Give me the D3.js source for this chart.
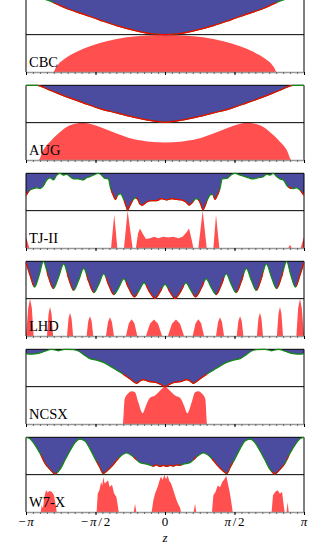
<!DOCTYPE html>
<html>
<head>
<meta charset="utf-8">
<script src="https://cdn.jsdelivr.net/npm/d3@7"></script>
<style>
body { margin: 0; background: #fff; }
svg { display: block; }
</style>
</head>
<body>
<svg width="329" height="544"></svg>
<script>
// z given in units of pi; upper values = depth from panel top (0..1 of half panel),
// lower values = height from panel bottom (0..1 of half panel)
const cbcTopZ = [-1, -0.93, -0.851, -0.78, -0.707, -0.588, -0.468, -0.348, -0.228, -0.108, 0, 0.108, 0.228, 0.348, 0.468, 0.588, 0.707, 0.78, 0.851, 0.93, 1];
const cbcTop  = [0, 0.02, 0.07, 0.18, 0.30, 0.45, 0.61, 0.76, 0.88, 0.97, 1.0, 0.97, 0.88, 0.76, 0.61, 0.45, 0.30, 0.18, 0.07, 0.02, 0];
const cbcLowZ = [-1, -0.803, -0.785, -0.767, -0.719, -0.635, -0.540, -0.420, -0.276, -0.132, 0, 0.132, 0.276, 0.420, 0.540, 0.635, 0.719, 0.767, 0.785, 0.803, 1];
const cbcLow  = [0, 0, 0.12, 0.21, 0.36, 0.54, 0.69, 0.82, 0.93, 0.98, 1.0, 0.98, 0.93, 0.82, 0.69, 0.54, 0.36, 0.21, 0.12, 0, 0];

const augTopZ = [-1, -0.923, -0.827, -0.707, -0.588, -0.468, -0.348, -0.228, -0.108, 0, 0.108, 0.228, 0.348, 0.468, 0.588, 0.707, 0.827, 0.923, 1];
const augTop  = [0, 0, 0.134, 0.31, 0.47, 0.625, 0.74, 0.85, 0.94, 0.99, 0.94, 0.85, 0.74, 0.625, 0.47, 0.31, 0.134, 0, 0];
const augLowZ = [-1, -0.911, -0.876, -0.827, -0.767, -0.707, -0.647, -0.588, -0.528, -0.468, -0.348, -0.228, -0.108, 0, 0.108, 0.228, 0.348, 0.468, 0.528, 0.588, 0.647, 0.707, 0.767, 0.827, 0.876, 0.911, 1];
const augLow  = [0, 0, 0.27, 0.49, 0.71, 0.885, 0.97, 1.0, 0.96, 0.885, 0.71, 0.56, 0.49, 0.47, 0.49, 0.56, 0.71, 0.885, 0.96, 1.0, 0.97, 0.885, 0.71, 0.49, 0.27, 0, 0];

const tj2TopZ = [-1, -0.971, -0.947, -0.923, -0.899, -0.875, -0.851, -0.827, -0.803, -0.779,
  -0.755, -0.731, -0.707, -0.683, -0.659, -0.624, -0.588, -0.564, -0.540, -0.504,
  -0.480, -0.456, -0.432, -0.408, -0.391, -0.372, -0.357, -0.341, -0.319, -0.300,
  -0.281, -0.269, -0.252, -0.233, -0.216, -0.199, -0.180, -0.161, -0.132, -0.096,
  -0.060, -0.024, 0.012, 0.048, 0.084, 0.120, 0.151, 0.175, 0.199, 0.223,
  0.245, 0.261, 0.273, 0.290, 0.309, 0.329, 0.343, 0.360, 0.376, 0.396,
  0.412, 0.444, 0.480, 0.504, 0.540, 0.576, 0.600, 0.636, 0.671, 0.707,
  0.731, 0.755, 0.779, 0.803, 0.827, 0.851, 0.875, 0.899, 0.923, 0.947, 0.971, 1];
const tj2Top = [0.59, 0.45, 0.41, 0.39, 0.41, 0.34, 0.18, 0.12, 0.18, 0.05,
  0.00, 0.05, 0.03, 0.09, 0.15, 0.15, 0.18, 0.12, 0.09, 0.03,
  0.00, 0.05, 0.14, 0.15, 0.41, 0.59, 0.70, 0.59, 0.55, 0.68,
  0.86, 0.98, 0.86, 0.73, 0.66, 0.68, 0.82, 0.85, 0.77, 0.73,
  0.73, 0.68, 0.71, 0.68, 0.70, 0.71, 0.77, 0.85, 0.77, 0.68,
  0.73, 0.86, 0.98, 0.85, 0.68, 0.57, 0.57, 0.70, 0.59, 0.41,
  0.15, 0.14, 0.03, 0.00, 0.05, 0.09, 0.12, 0.15, 0.12, 0.09,
  0.03, 0.05, 0.00, 0.09, 0.15, 0.18, 0.32, 0.39, 0.41, 0.39, 0.45, 0.59];
const tj2LowZ = [-1, -0.976, -0.388, -0.365, -0.343, -0.295, -0.269, -0.233, -0.209, -0.194,
  -0.180, -0.161, -0.137, -0.108, -0.079, -0.048, -0.012, 0.024, 0.060, 0.096,
  0.127, 0.156, 0.173, 0.192, 0.204, 0.240, 0.271, 0.300, 0.348, 0.367,
  0.391, 0.887, 0.899, 0.911, 0.976, 1];
const tj2Low = [0.30, 0, 0, 0.89, 0, 0, 1.0, 0, 0, 0.39,
  0.52, 0.39, 0.24, 0.26, 0.30, 0.26, 0.30, 0.28, 0.30, 0.26,
  0.30, 0.43, 0.52, 0.22, 0, 0, 1.0, 0, 0, 0.89,
  0, 0, 0.09, 0, 0, 0.30];

const lhdTopZ = [-1, -0.969, -0.938, -0.906, -0.875, -0.839, -0.803, -0.766, -0.729, -0.693,
  -0.657, -0.621, -0.585, -0.548, -0.511, -0.476, -0.441, -0.404, -0.367, -0.332,
  -0.297, -0.259, -0.221, -0.186, -0.151, -0.112, -0.072, -0.036, 0,
  0.036, 0.072, 0.112, 0.151, 0.186, 0.221, 0.259, 0.297, 0.332, 0.367,
  0.404, 0.441, 0.476, 0.511, 0.548, 0.585, 0.621, 0.657, 0.693, 0.729,
  0.766, 0.803, 0.839, 0.875, 0.906, 0.938, 0.969, 1];
const lhdTop = [0.03, 0.39, 0.69, 0.38, 0.01, 0.41, 0.73, 0.43, 0.07, 0.46,
  0.78, 0.51, 0.19, 0.55, 0.84, 0.615, 0.34, 0.64, 0.89, 0.70,
  0.47, 0.73, 0.95, 0.78, 0.58, 0.81, 0.99, 0.82, 0.62,
  0.82, 0.99, 0.81, 0.58, 0.78, 0.95, 0.73, 0.47, 0.70, 0.89,
  0.64, 0.34, 0.615, 0.84, 0.55, 0.19, 0.51, 0.78, 0.46, 0.07,
  0.43, 0.73, 0.41, 0.01, 0.38, 0.69, 0.39, 0.03];
const lhdLowZ = [-1, -0.984, -0.971, -0.958, -0.945, -0.849, -0.838, -0.827, -0.816, -0.805,
  -0.705, -0.694, -0.683, -0.672, -0.661, -0.564, -0.552, -0.540, -0.528, -0.516,
  -0.425, -0.410, -0.396, -0.382, -0.367, -0.281, -0.260, -0.240, -0.220, -0.199,
  -0.137, -0.108, -0.079, -0.050, -0.021, 0.021, 0.050, 0.079, 0.108, 0.137,
  0.199, 0.220, 0.240, 0.260, 0.281, 0.367, 0.382, 0.396, 0.410, 0.425,
  0.516, 0.528, 0.540, 0.552, 0.564, 0.661, 0.672, 0.683, 0.694, 0.705,
  0.805, 0.816, 0.827, 0.838, 0.849, 0.945, 0.958, 0.971, 0.984, 1];
const lhdLow = [0, 0.75, 1.0, 0.75, 0, 0, 0.585, 0.78, 0.585, 0,
  0, 0.465, 0.62, 0.465, 0, 0, 0.40, 0.53, 0.40, 0,
  0, 0.375, 0.50, 0.375, 0, 0, 0.34, 0.45, 0.34, 0,
  0, 0.33, 0.44, 0.33, 0, 0, 0.33, 0.44, 0.33, 0,
  0, 0.34, 0.45, 0.34, 0, 0, 0.375, 0.50, 0.375, 0,
  0, 0.40, 0.53, 0.40, 0, 0, 0.465, 0.62, 0.465, 0,
  0, 0.585, 0.78, 0.585, 0, 0, 0.75, 1.0, 0.75, 0];

const ncsxTopZ = [-1, -0.959, -0.911, -0.863, -0.815, -0.767, -0.719, -0.659, -0.616, -0.583,
  -0.540, -0.492, -0.444, -0.396, -0.348, -0.300, -0.252, -0.204, -0.180, -0.156,
  -0.120, -0.065, -0.031, 0, 0.031, 0.065, 0.120, 0.156, 0.180, 0.204,
  0.252, 0.300, 0.348, 0.396, 0.444, 0.492, 0.540, 0.583, 0.616, 0.659,
  0.719, 0.767, 0.815, 0.863, 0.911, 0.959, 1];
const ncsxTop = [0.12, 0.13, 0.11, 0.05, 0, 0.04, 0, 0.01, 0.06, 0.15,
  0.25, 0.29, 0.35, 0.45, 0.56, 0.67, 0.79, 0.91, 0.85, 0.81,
  0.86, 0.89, 0.94, 1.0, 0.94, 0.89, 0.86, 0.81, 0.85, 0.91,
  0.79, 0.67, 0.56, 0.45, 0.35, 0.29, 0.25, 0.15, 0.06, 0.01,
  0, 0.04, 0, 0.05, 0.11, 0.13, 0.12];
const ncsxLowZ = [-1, -0.303, -0.290, -0.264, -0.240, -0.216, -0.192, -0.161, -0.137, -0.108,
  -0.072, -0.036, 0, 0.036, 0.072, 0.108, 0.137, 0.161, 0.192, 0.216,
  0.240, 0.264, 0.290, 0.303, 1];
const ncsxLow = [0, 0, 0.67, 0.82, 0.875, 0.85, 0.58, 0.29, 0.49, 0.70,
  0.76, 0.89, 1.0, 0.89, 0.76, 0.70, 0.49, 0.29, 0.58, 0.85,
  0.875, 0.82, 0.67, 0, 0];

const w7xTopZ = [-1, -0.971, -0.935, -0.899, -0.863, -0.827, -0.791, -0.755, -0.719, -0.683,
  -0.647, -0.612, -0.576, -0.540, -0.504, -0.472, -0.444, -0.415, -0.372, -0.324,
  -0.276, -0.228, -0.180, -0.132, -0.108, -0.084, -0.060, -0.036, -0.012, 0.012,
  0.036, 0.060, 0.084, 0.108, 0.132, 0.180, 0.228, 0.276, 0.324, 0.372,
  0.415, 0.444, 0.472, 0.504, 0.540, 0.576, 0.612, 0.647, 0.683, 0.719,
  0.755, 0.791, 0.827, 0.863, 0.899, 0.935, 0.971, 1];
const w7xTop = [0, 0.04, 0.21, 0.43, 0.70, 0.86, 0.98, 0.86, 0.61, 0.36,
  0.14, 0.05, 0.10, 0.31, 0.57, 0.78, 0.97, 0.89, 0.73, 0.52,
  0.42, 0.52, 0.68, 0.72, 0.75, 0.77, 0.74, 0.78, 0.75, 0.78,
  0.75, 0.77, 0.74, 0.75, 0.72, 0.68, 0.52, 0.42, 0.52, 0.73,
  0.89, 0.97, 0.78, 0.57, 0.31, 0.10, 0.05, 0.14, 0.36, 0.61,
  0.86, 0.98, 0.86, 0.70, 0.43, 0.21, 0.04, 0];
const w7xLowZ = [-1, -0.894, -0.887, -0.878, -0.868, -0.856, -0.844, -0.832, -0.815, -0.799, -0.787, -0.779,
  -0.492, -0.484, -0.472, -0.460, -0.451, -0.444, -0.434, -0.422, -0.410, -0.398, -0.381, -0.367, -0.350, -0.341, -0.333,
  -0.225, -0.216, -0.206,
  -0.096, -0.084, -0.072, -0.060, -0.050, -0.041, -0.029, -0.017, -0.005, 0.007, 0.019, 0.031, 0.043, 0.055, 0.067, 0.082, 0.096, 0.108, 0.115,
  0.206, 0.216, 0.225,
  0.338, 0.348, 0.365, 0.379, 0.396, 0.412, 0.427, 0.441, 0.453, 0.465, 0.477, 0.487,
  0.767, 0.777, 0.794, 0.811, 0.827, 0.842, 0.854, 0.861, 0.875, 0.882, 0.890, 1];
const w7xLow = [0, 0, 0.18, 0.10, 0.40, 0.58, 0.52, 0.56, 0.54, 0.45, 0.20, 0,
  0, 0.49, 0.58, 0.80, 0.70, 0.94, 0.76, 0.80, 0.85, 0.67, 0.73, 0.50, 0.40, 0.20, 0,
  0, 0.22, 0,
  0, 0.31, 0.49, 0.60, 0.70, 0.82, 0.95, 0.86, 0.99, 0.88, 0.98, 0.83, 0.77, 0.64, 0.50, 0.33, 0.20, 0.12, 0,
  0, 0.22, 0,
  0, 0.45, 0.55, 0.71, 0.66, 0.80, 0.88, 0.97, 0.75, 0.54, 0.27, 0,
  0, 0.45, 0.54, 0.58, 0.49, 0.54, 0.18, 0, 0, 0.27, 0, 0];

const names = ["CBC", "AUG", "TJ-II", "LHD", "NCSX", "W7-X"];
const tickValues = [-1, -0.5, 0, 0.5, 1];
const tickLabels = ["−π", "−π/2", "0", "π/2", "π"];

const panels = [
  { top: [cbcTopZ, cbcTop], low: [cbcLowZ, cbcLow], curve: d3.curveMonotoneX },
  { top: [augTopZ, augTop], low: [augLowZ, augLow], curve: d3.curveMonotoneX },
  { top: [tj2TopZ, tj2Top], low: [tj2LowZ, tj2Low], curve: d3.curveLinear },
  { top: [lhdTopZ, lhdTop], low: [lhdLowZ, lhdLow], curve: d3.curveLinear },
  { top: [ncsxTopZ, ncsxTop], low: [ncsxLowZ, ncsxLow], curve: d3.curveMonotoneX },
  { top: [w7xTopZ, w7xTop], low: [w7xLowZ, w7xLow], curve: d3.curveLinear }
];

const svg = d3.select("svg");
const font = "'Liberation Serif', 'DejaVu Serif', serif";
const blue = "#4b4b9f", redFill = "#ff4f4f", redLine = "#ff0000", green = "#118a11";

const x = d3.scaleLinear().domain([-1, 1]).range([26, 304]);
const firstTop = -2.7, step = 88, panelH = 74.7;

const toPts = ([zs, vs]) => zs.map((z, k) => ({ z, v: vs[k] }));

panels.forEach((p, i) => {
  const y0 = firstTop + i * step;
  const y1 = y0 + panelH;
  const ym = y0 + panelH / 2;
  const yUp = d3.scaleLinear().domain([0, 1]).range([y0, ym]);
  const yDn = d3.scaleLinear().domain([0, 1]).range([y1, ym]);
  const up = toPts(p.top);
  const dn = toPts(p.low);
  const g = svg.append("g");

  g.append("path").datum(up)
    .attr("fill", blue)
    .attr("d", d3.area().x(d => x(d.z)).y0(y0).y1(d => yUp(d.v)).curve(d3.curveMonotoneX));

  g.append("path").datum(dn)
    .attr("fill", redFill)
    .attr("d", d3.area().x(d => x(d.z)).y0(y1).y1(d => yDn(d.v)).curve(p.curve));

  // frame: top, middle, sides
  const frame = g.append("g").attr("stroke", "#000").attr("stroke-width", 1);
  frame.append("line").attr("x1", x(-1)).attr("x2", x(1)).attr("y1", y0).attr("y2", y0);
  frame.append("line").attr("x1", x(-1)).attr("x2", x(1)).attr("y1", ym).attr("y2", ym);
  frame.append("line").attr("x1", x(-1)).attr("x2", x(-1)).attr("y1", y0).attr("y2", y1);
  frame.append("line").attr("x1", x(1)).attr("x2", x(1)).attr("y1", y0).attr("y2", y1);

  // boundary curve: green, red where the lower region is non-empty
  const line = d3.line().x(d => x(d.z)).y(d => yUp(d.v)).curve(d3.curveMonotoneX);
  g.append("path").datum(up)
    .attr("fill", "none").attr("stroke", green).attr("stroke-width", 1.2)
    .attr("d", line);

  const clip = svg.append("clipPath").attr("id", "red" + i);
  d3.pairs(dn).filter(([a, b]) => a.v > 0 || b.v > 0).forEach(([a, b]) => {
    clip.append("rect")
      .attr("x", x(a.z)).attr("width", x(b.z) - x(a.z))
      .attr("y", y0 - 3).attr("height", panelH + 6);
  });
  g.append("path").datum(up)
    .attr("clip-path", `url(#red${i})`)
    .attr("fill", "none").attr("stroke", redLine).attr("stroke-width", 1.2)
    .attr("d", line);

  // bottom axis
  const minor = g.append("g").attr("transform", `translate(0,${y1})`)
    .call(d3.axisBottom(x).tickValues(d3.range(-20, 21).map(k => k / 20))
      .tickSize(2).tickSizeOuter(0).tickFormat(""));
  minor.select(".domain").attr("stroke", "#9a9a9a").attr("stroke-width", 1.3);
  minor.selectAll(".tick line").attr("stroke", "#666");

  const major = g.append("g").attr("transform", `translate(0,${y1})`)
    .call(d3.axisBottom(x).tickValues(tickValues).tickSize(3).tickSizeOuter(0).tickFormat(""));
  major.select(".domain").remove();
  major.selectAll(".tick line").attr("stroke", "#000");

  g.append("text")
    .attr("x", 29).attr("y", y1 - 5)
    .attr("font-family", font).attr("font-size", 14.5)
    .text(names[i]);
});

// tick labels under last panel
const lastBottom = firstTop + 5 * step + panelH;
const labels = svg.append("g")
  .attr("font-family", font).attr("font-size", 13).attr("text-anchor", "middle");
tickValues.forEach((v, k) => {
  const t = labels.append("text").attr("x", x(v)).attr("y", lastBottom + 14);
  Array.from(tickLabels[k]).forEach((ch, j) => {
    const s = t.append("tspan").text(ch);
    if (ch === "π") s.attr("font-style", "italic");
    if (j > 0) s.attr("dx", 1.8);
  });
});

svg.append("text")
  .attr("x", x(0)).attr("y", lastBottom + 30)
  .attr("text-anchor", "middle")
  .attr("font-family", font).attr("font-size", 13).attr("font-style", "italic")
  .text("z");
</script>
</body>
</html>
